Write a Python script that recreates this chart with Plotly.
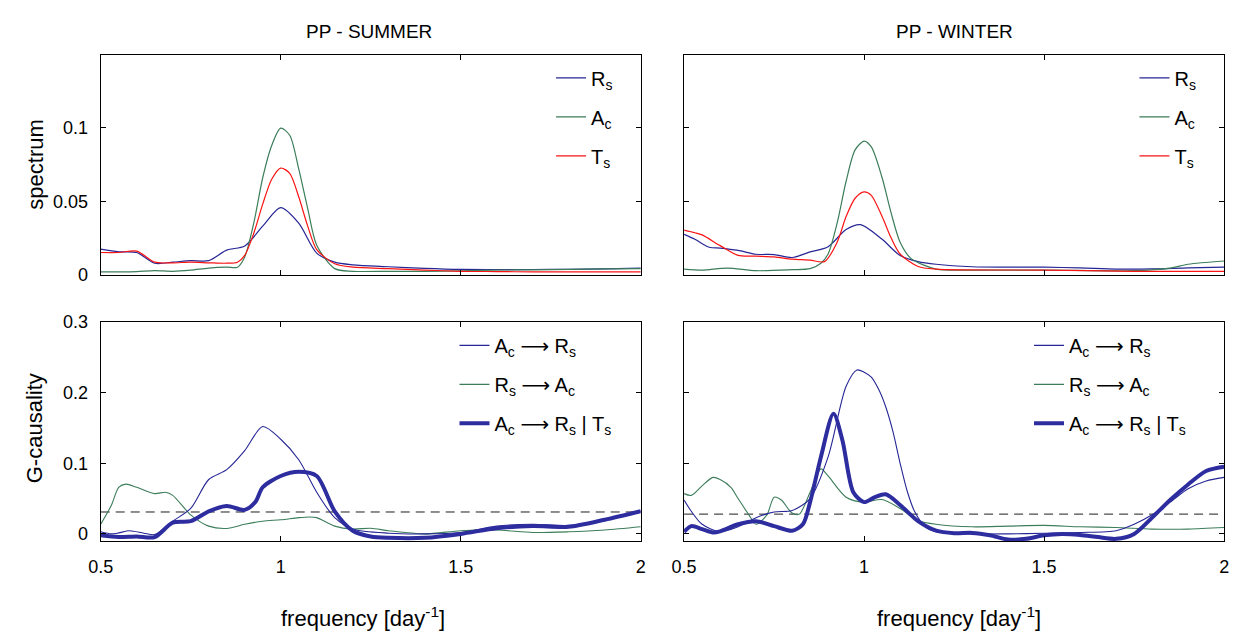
import plotly.graph_objects as go

W, H = 1238, 643

# ---------------- data ----------------
# Spectrum, summer
f_sum_rs = [0.5,0.55,0.6,0.65,0.7,0.75,0.8,0.85,0.9,0.95,1.0,1.05,1.1,1.15,1.2,1.3,1.4,1.5,1.6,1.7,1.8,1.9,2.0]
spec_sum_rs = [0.0173,0.0155,0.015,0.0077,0.0084,0.0095,0.0095,0.0166,0.0195,0.033,0.0456,0.035,0.0146,0.0084,0.0066,0.0053,0.0042,0.0035,0.0034,0.0034,0.0035,0.0038,0.0044]
f_sum_ac = [0.5,0.55,0.6,0.65,0.7,0.75,0.8,0.85,0.88,0.9,0.925,0.95,0.975,1.0,1.025,1.05,1.075,1.1,1.15,1.2,1.3,1.4,1.5,1.6,1.7,1.8,1.9,2.0]
spec_sum_ac = [0.0018,0.0018,0.002,0.0027,0.0022,0.003,0.0044,0.005,0.005,0.012,0.035,0.066,0.088,0.0998,0.095,0.072,0.045,0.02,0.004,0.0022,0.0022,0.0022,0.0025,0.003,0.0032,0.0035,0.0038,0.004]
f_sum_ts = [0.5,0.55,0.6,0.65,0.7,0.75,0.8,0.85,0.88,0.9,0.925,0.95,0.975,1.0,1.025,1.05,1.075,1.1,1.15,1.2,1.3,1.4,1.5,1.6,1.7,1.8,1.9,2.0]
spec_sum_ts = [0.015,0.015,0.016,0.0084,0.008,0.0084,0.008,0.0077,0.0084,0.013,0.028,0.048,0.065,0.0726,0.069,0.053,0.033,0.017,0.0073,0.005,0.004,0.003,0.0022,0.002,0.0018,0.0018,0.0018,0.0018]

# Spectrum, winter
f_win_rs = [0.5,0.53,0.57,0.6,0.65,0.7,0.75,0.8,0.85,0.9,0.95,0.99,1.05,1.1,1.15,1.2,1.3,1.4,1.5,1.6,1.7,1.8,1.9,2.0]
spec_win_rs = [0.0274,0.024,0.0186,0.018,0.0164,0.0138,0.0136,0.0116,0.0154,0.019,0.0307,0.034,0.024,0.013,0.0088,0.007,0.0053,0.005,0.005,0.0045,0.0037,0.0038,0.0045,0.005]
f_win_ac = [0.5,0.55,0.62,0.7,0.8,0.85,0.88,0.9,0.925,0.95,0.975,1.0,1.02,1.05,1.075,1.1,1.13,1.2,1.3,1.5,1.75,1.85,1.9,2.0]
spec_win_ac = [0.0037,0.003,0.0044,0.0026,0.0033,0.004,0.0077,0.014,0.035,0.0636,0.085,0.091,0.087,0.066,0.042,0.022,0.011,0.0037,0.003,0.003,0.0026,0.0044,0.007,0.0092]
f_win_ts = [0.5,0.53,0.55,0.6,0.65,0.7,0.75,0.8,0.85,0.89,0.925,0.95,0.975,1.0,1.02,1.05,1.075,1.1,1.15,1.2,1.5,1.75,2.0]
spec_win_ts = [0.0303,0.0285,0.027,0.0197,0.013,0.0125,0.012,0.0105,0.0098,0.0088,0.022,0.0395,0.052,0.0564,0.054,0.0395,0.025,0.014,0.0055,0.0037,0.003,0.0022,0.0022]

# G-causality, summer
f_gs_acrs = [0.5,0.53,0.55,0.58,0.62,0.65,0.7,0.75,0.8,0.85,0.9,0.95,1.0,1.05,1.1,1.15,1.2,1.3,1.4,1.5,1.6,1.7,1.8,1.9,2.0]
gc_sum_acrs = [0.003,0.0,0.0014,0.0045,0.001,-0.001,0.018,0.036,0.077,0.091,0.118,0.152,0.134,0.105,0.059,0.023,0.007,0.001,0.0,0.002,0.011,0.0136,0.012,0.02,0.032]
f_gs_rsac = [0.5,0.53,0.55,0.57,0.6,0.65,0.68,0.7,0.75,0.8,0.85,0.9,0.95,1.0,1.05,1.08,1.1,1.15,1.2,1.25,1.3,1.4,1.5,1.6,1.7,1.8,1.9,2.0]
gc_sum_rsac = [0.0136,0.041,0.066,0.0705,0.066,0.057,0.059,0.0545,0.027,0.011,0.0077,0.0136,0.018,0.02,0.023,0.024,0.023,0.011,0.0068,0.008,0.0045,0.0,0.0045,0.0055,0.002,0.003,0.0055,0.01]
f_gs_cond = [0.5,0.55,0.6,0.65,0.7,0.75,0.8,0.85,0.9,0.93,0.95,1.0,1.05,1.1,1.15,1.2,1.25,1.3,1.4,1.5,1.6,1.7,1.8,1.9,2.0]
gc_sum_cond = [-0.002,-0.0045,-0.0036,-0.0045,0.016,0.018,0.032,0.0395,0.034,0.0455,0.066,0.082,0.088,0.082,0.032,0.0045,-0.0036,-0.0055,-0.0055,0.0,0.008,0.011,0.01,0.02,0.032]

# G-causality, winter
f_gw_acrs = [0.5,0.52,0.55,0.6,0.65,0.7,0.75,0.8,0.85,0.9,0.95,0.98,1.0,1.02,1.04,1.06,1.08,1.1,1.12,1.14,1.17,1.2,1.3,1.4,1.5,1.6,1.7,1.75,1.8,1.85,1.9,1.95,2.0]
gc_win_acrs = [0.048,0.032,0.0136,0.003,0.01,0.023,0.031,0.033,0.05,0.109,0.209,0.232,0.229,0.222,0.205,0.18,0.145,0.1,0.06,0.032,0.01,0.003,0.0,0.0,0.001,0.002,0.0045,0.0136,0.027,0.045,0.064,0.075,0.08]
f_gw_rsac = [0.5,0.52,0.55,0.58,0.6,0.63,0.65,0.68,0.7,0.73,0.75,0.77,0.8,0.82,0.85,0.88,0.9,0.95,1.0,1.05,1.1,1.15,1.2,1.3,1.4,1.5,1.6,1.7,1.8,1.9,2.0]
gc_win_rsac = [0.057,0.0545,0.068,0.08,0.077,0.066,0.05,0.027,0.0136,0.027,0.052,0.048,0.0295,0.028,0.059,0.092,0.082,0.052,0.045,0.0486,0.036,0.019,0.0136,0.01,0.011,0.012,0.01,0.009,0.0068,0.0068,0.009]
f_gw_cond = [0.5,0.52,0.55,0.58,0.6,0.65,0.7,0.75,0.8,0.83,0.85,0.88,0.915,0.94,0.97,1.0,1.03,1.06,1.1,1.15,1.2,1.25,1.3,1.35,1.4,1.45,1.5,1.55,1.6,1.65,1.7,1.75,1.8,1.85,1.9,1.95,2.0]
gc_win_cond = [0.003,0.011,0.0068,0.002,0.0036,0.0136,0.018,0.011,0.0045,0.0136,0.045,0.109,0.17,0.132,0.059,0.045,0.052,0.056,0.041,0.018,0.0045,0.001,0.0014,-0.002,-0.008,-0.007,-0.002,0.0,-0.0014,-0.0045,-0.007,0.0,0.023,0.048,0.07,0.089,0.095]

# significance thresholds
f_thr = [0.5, 2.0]
thr_sum = [0.031, 0.031]
thr_win = [0.028, 0.028]

# tick labels
x_tickvals = [0.5, 1, 1.5, 2]
x_ticktext = ["0.5", "1", "1.5", "2"]
spec_tickvals = [0, 0.05, 0.1]
spec_ticktext = ["0", "0.05", "0.1"]
gc_tickvals = [0, 0.1, 0.2, 0.3]
gc_ticktext = ["0", "0.1", "0.2", "0.3"]

# ---------------- style ----------------
BLUE = "rgb(38,38,150)"
BLUE_THICK = "rgb(45,45,160)"
GREEN = "rgb(60,125,90)"
RED = "rgb(250,20,20)"
FONT = "Liberation Sans, Arial, DejaVu Sans"

fig = go.Figure()

def add(x, y, color, width, xa, ya, name=None, legend=None, group=None, dash=None):
    fig.add_trace(go.Scatter(
        x=x, y=y, mode="lines", xaxis=xa, yaxis=ya,
        line=dict(color=color, width=width, shape="spline", smoothing=0.8, dash=dash),
        name=name, showlegend=name is not None, legend=legend, legendgroup=group,
        hoverinfo="skip"))

ARROW = " \u27f6 "
# top-left
add(f_sum_rs, spec_sum_rs, BLUE, 1.2, "x", "y", "R<sub>s</sub>", "legend", "a1")
add(f_sum_ac, spec_sum_ac, GREEN, 1.2, "x", "y", "A<sub>c</sub>", "legend", "a2")
add(f_sum_ts, spec_sum_ts, RED, 1.2, "x", "y", "T<sub>s</sub>", "legend", "a3")
# top-right
add(f_win_rs, spec_win_rs, BLUE, 1.2, "x2", "y2", "R<sub>s</sub>", "legend2", "b1")
add(f_win_ac, spec_win_ac, GREEN, 1.2, "x2", "y2", "A<sub>c</sub>", "legend2", "b2")
add(f_win_ts, spec_win_ts, RED, 1.2, "x2", "y2", "T<sub>s</sub>", "legend2", "b3")
# bottom-left
add(f_thr, thr_sum, "rgb(30,30,30)", 1, "x3", "y3", dash="9px,6px")
add(f_gs_rsac, gc_sum_rsac, GREEN, 1.1, "x3", "y3")
add(f_gs_acrs, gc_sum_acrs, BLUE, 1.1, "x3", "y3")
add(f_gs_cond, gc_sum_cond, BLUE_THICK, 4, "x3", "y3")
# bottom-right
add(f_thr, thr_win, "rgb(30,30,30)", 1, "x4", "y4", dash="9px,6px")
add(f_gw_rsac, gc_win_rsac, GREEN, 1.1, "x4", "y4")
add(f_gw_acrs, gc_win_acrs, BLUE, 1.1, "x4", "y4")
add(f_gw_cond, gc_win_cond, BLUE_THICK, 4, "x4", "y4")

# legend-only entries for the G-causality panels (same styles)
def leg(color, width, name, legend, group):
    fig.add_trace(go.Scatter(x=[None], y=[None], mode="lines", xaxis="x3" if legend == "legend3" else "x4",
                             yaxis="y3" if legend == "legend3" else "y4",
                             line=dict(color=color, width=width), name=name,
                             legend=legend, legendgroup=group, showlegend=True))
leg(BLUE, 1.1, "A<sub>c</sub>" + ARROW + "R<sub>s</sub>", "legend3", "c1")
leg(GREEN, 1.1, "R<sub>s</sub>" + ARROW + "A<sub>c</sub>", "legend3", "c2")
leg(BLUE_THICK, 4, "A<sub>c</sub>" + ARROW + "R<sub>s</sub> | T<sub>s</sub>", "legend3", "c3")
leg(BLUE, 1.1, "A<sub>c</sub>" + ARROW + "R<sub>s</sub>", "legend4", "d1")
leg(GREEN, 1.1, "R<sub>s</sub>" + ARROW + "A<sub>c</sub>", "legend4", "d2")
leg(BLUE_THICK, 4, "A<sub>c</sub>" + ARROW + "R<sub>s</sub> | T<sub>s</sub>", "legend4", "d3")

def px_x(p):
    return p / W

def px_y(p):
    return 1 - p / H

xl = [px_x(89), px_x(637)]
xr = [px_x(681), px_x(1229)]
yt = [px_y(273), px_y(46)]
yb = [px_y(548), px_y(322)]

axis_common = dict(showline=True, linecolor="black", linewidth=1, mirror="ticks",
                   ticks="inside", ticklen=5, tickcolor="black", showgrid=False,
                   zeroline=False, tickfont=dict(family=FONT, size=18, color="black"))

fig.update_layout(
    xaxis=dict(domain=xl, range=[0.5, 2], tickvals=x_tickvals, showticklabels=False, anchor="y", **axis_common),
    yaxis=dict(domain=yt, range=[0, 0.15], tickvals=spec_tickvals, ticktext=spec_ticktext, anchor="x", ticklabelstandoff=8, **axis_common),
    xaxis2=dict(domain=xr, range=[0.5, 2], tickvals=x_tickvals, showticklabels=False, anchor="y2", **axis_common),
    yaxis2=dict(domain=yt, range=[0, 0.15], tickvals=spec_tickvals, showticklabels=False, anchor="x2", **axis_common),
    xaxis3=dict(domain=xl, range=[0.5, 2], tickvals=x_tickvals, ticktext=x_ticktext, anchor="y3", ticklabelstandoff=9, **axis_common),
    yaxis3=dict(domain=yb, range=[-0.01, 0.3], tickvals=gc_tickvals, ticktext=gc_ticktext, anchor="x3", ticklabelstandoff=8, **axis_common),
    xaxis4=dict(domain=xr, range=[0.5, 2], tickvals=x_tickvals, ticktext=x_ticktext, anchor="y4", ticklabelstandoff=9, **axis_common),
    yaxis4=dict(domain=yb, range=[-0.01, 0.3], tickvals=gc_tickvals, showticklabels=False, anchor="x4", **axis_common),
)

leg_common = dict(xanchor="left", yanchor="top", bgcolor="rgba(0,0,0,0)", borderwidth=0,
                  font=dict(family=FONT, size=20, color="black"), tracegroupgap=10,
                  itemclick=False, itemdoubleclick=False)
fig.update_layout(
    legend=dict(x=px_x(546), y=px_y(50), **leg_common),
    legend2=dict(x=px_x(1138), y=px_y(50), **leg_common),
    legend3=dict(x=px_x(448), y=px_y(326), **leg_common),
    legend4=dict(x=px_x(1031), y=px_y(326), **leg_common),
)

ann = []
ann.append(dict(text="PP - SUMMER", x=px_x(361), y=px_y(22), xref="paper", yref="paper",
                xanchor="center", yanchor="middle",
                showarrow=False, font=dict(family=FONT, size=19, color="black")))
ann.append(dict(text="PP - WINTER", x=px_x(955), y=px_y(22), xref="paper", yref="paper",
                xanchor="center", yanchor="middle",
                showarrow=False, font=dict(family=FONT, size=19, color="black")))
for cx in (355, 960):
    ann.append(dict(text="frequency [day<sup>-1</sup>]", x=px_x(cx), y=px_y(627), xref="paper", yref="paper",
                    xanchor="center", yanchor="middle",
                    showarrow=False, font=dict(family=FONT, size=22, color="black")))
ann.append(dict(text="spectrum", x=px_x(22), y=px_y(160), xref="paper", yref="paper", textangle=-90,
                xanchor="center", yanchor="middle",
                showarrow=False, font=dict(family=FONT, size=22, color="black")))
ann.append(dict(text="G-causality", x=px_x(22), y=px_y(432), xref="paper", yref="paper", textangle=-90,
                xanchor="center", yanchor="middle",
                showarrow=False, font=dict(family=FONT, size=22, color="black")))

fig.update_layout(
    width=W, height=H, margin=dict(l=0, r=0, t=0, b=0),
    paper_bgcolor="white", plot_bgcolor="white",
    annotations=ann,
    font=dict(family=FONT, color="black"),
)

fig.write_html("out.html")
